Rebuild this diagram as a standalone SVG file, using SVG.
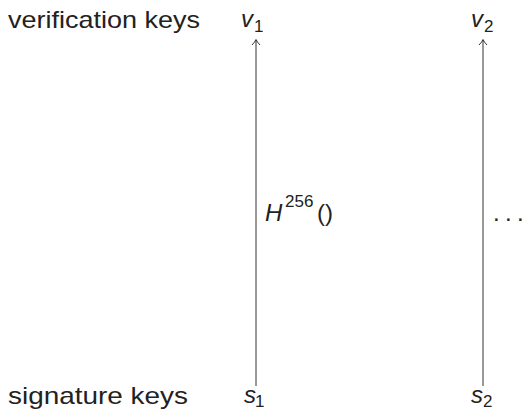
<svg xmlns="http://www.w3.org/2000/svg" width="527" height="412" viewBox="0 0 527 412">
<defs>
<style>
text{font-family:"Liberation Sans","DejaVu Sans",sans-serif;fill:#222;font-size:24px}
.it{font-style:italic}
.sub{font-size:17px}
.conn line{stroke:#333;stroke-width:1}
</style>
<marker id="ah" markerWidth="10" markerHeight="10" refX="5" refY="1" orient="0" markerUnits="userSpaceOnUse">
<path d="M1,6 Q4,3 5,0.5 Q6,3 9,6" fill="none" stroke="#333" stroke-width="1"/>
</marker>
</defs>
<rect width="527" height="412" fill="#fff"/>
<g id="label-verification"><text x="8" y="28" textLength="192" lengthAdjust="spacingAndGlyphs">verification keys</text></g>
<g id="label-signature"><text x="8" y="404" textLength="180" lengthAdjust="spacingAndGlyphs">signature keys</text></g>
<g id="v1"><text x="241" y="27" class="it">v</text><text x="254" y="32" class="sub">1</text></g>
<g id="v2"><text x="471" y="27" class="it">v</text><text x="484" y="32" class="sub">2</text></g>
<g id="s1"><text x="244" y="403" class="it">s</text><text x="255" y="407" class="sub">1</text></g>
<g id="s2"><text x="471" y="403" class="it">s</text><text x="483" y="407" class="sub">2</text></g>
<g class="conn" id="connectors">
<line x1="256" y1="386" x2="256" y2="40" marker-end="url(#ah)"/>
<line x1="483" y1="386" x2="483" y2="40" marker-end="url(#ah)"/>
</g>
<g id="label-hash"><text x="265" y="221" class="it" font-size="27">H</text><text x="285" y="207" class="sub">256</text><text x="317" y="221" font-size="25">()</text></g>
<g id="label-dots"><text x="493" y="221">.</text><text x="505" y="221">.</text><text x="517" y="221">.</text></g>
</svg>
